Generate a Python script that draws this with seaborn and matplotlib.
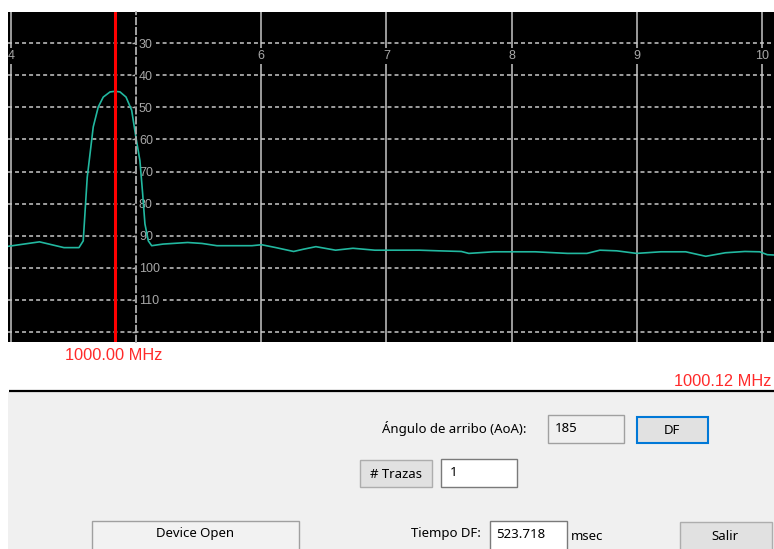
import numpy as np
import pandas as pd
import matplotlib
matplotlib.use("Agg")
import matplotlib.pyplot as plt
import seaborn as sns
from matplotlib.patches import Rectangle

# trace (x in grid units, level in -dBm, axis inverted)
pos = [3.976, 4.228, 4.423, 4.543, 4.577, 4.609, 4.625, 4.657, 4.697, 4.737,
       4.791, 4.831, 4.871, 4.919, 4.964, 4.998, 5.030, 5.052, 5.070, 5.097,
       5.124, 5.214, 5.411, 5.526, 5.645, 5.925, 6.002, 6.117, 6.258, 6.336,
       6.436, 6.593, 6.732, 6.907, 7.263, 7.419, 7.598, 7.658, 7.855, 8.189,
       8.446, 8.601, 8.705, 8.840, 8.998, 9.192, 9.391, 9.551, 9.708, 9.863,
       9.982, 10.042, 10.096]
level = [93.3, 91.9, 93.7, 93.7, 91.6, 71.8, 66.6, 56.1, 49.9, 46.8,
         45.2, 45.0, 45.2, 46.8, 50.9, 59.3, 66.6, 77.0, 86.3, 91.6,
         93.1, 92.6, 92.1, 92.4, 93.1, 93.1, 92.8, 93.7, 94.9, 94.2,
         93.4, 94.5, 93.9, 94.5, 94.5, 94.7, 94.9, 95.5, 95.0, 95.0,
         95.5, 95.5, 94.5, 94.7, 95.5, 95.0, 95.0, 96.4, 95.3, 94.9,
         95.0, 95.9, 96.0]
marker_pos = 4.83

x_ticks = [4, 6, 7, 8, 9, 10]
y_ticks = [30, 40, 50, 60, 70, 80, 90, 100, 110, 120]
y_labels = ["30", "40", "50", "60", "70", "80", "90", "100", "110", ""]

freq_left = "1000.00 MHz"
freq_right = "1000.12 MHz"
aoa_value = "185"
n_traces = "1"
df_time = "523.718"

sns.set_style("dark")
plt.rcParams["font.family"] = ["Liberation Sans", "DejaVu Sans"]

W, H = 774, 549
fig = plt.figure(figsize=(W / 100, H / 100), dpi=100)
fig.patch.set_facecolor("white")

# --- lower control panel (pixel coords) ---
ui = fig.add_axes([0, 0, 1, 1], zorder=0)
ui.set_xlim(0, W)
ui.set_ylim(H, 0)
ui.axis("off")
ui.add_patch(Rectangle((8, 392), W - 8, H - 392, facecolor="#f0f0f0", edgecolor="none"))
ui.plot([9, W], [391, 391], color="black", lw=1.6, solid_capstyle="butt")

ui.text(65, 355, freq_left, color="#ff2a2a", fontsize=11.8, ha="left", va="center")
ui.text(772, 381, freq_right, color="#ff2a2a", fontsize=11.8, ha="right", va="center")


def box(x0, y0, x1, y1, fc, ec, lw=1.0):
    ui.add_patch(Rectangle((x0, y0), x1 - x0, y1 - y0, facecolor=fc, edgecolor=ec, lw=lw))


uifont = dict(fontsize=9.5, color="black", va="center", family=["Noto Sans", "DejaVu Sans"])
box(548, 415, 624, 443, "#f0f0f0", "#a0a0a0")
box(637, 417, 708, 443, "#e1e1e1", "#0078d7", lw=1.5)
box(360, 460, 432, 487, "#e1e1e1", "#adadad")
box(441, 459, 517, 487, "white", "#7a7a7a")
box(92, 521, 299, 555, "#f2f2f2", "#a0a0a0")
box(490, 521, 567, 555, "white", "#7a7a7a")
box(680, 522, 772, 555, "#e1e1e1", "#adadad")

ui.text(526, 429, "Ángulo de arribo (AoA):", ha="right", **uifont)
ui.text(555, 429, aoa_value, ha="left", **uifont)
ui.text(672, 431, "DF", ha="center", **uifont)
ui.text(396, 474, "# Trazas", ha="center", **uifont)
ui.text(450, 472, n_traces, ha="left", **uifont)
ui.text(195, 534, "Device Open", ha="center", **uifont)
ui.text(481, 534, "Tiempo DF:", ha="right", **uifont)
ui.text(496, 534, df_time, ha="left", **uifont)
ui.text(571, 536, "msec", ha="left", **uifont)
ui.text(725, 536, "Salir", ha="center", **uifont)

# --- spectrum display ---
ax = fig.add_axes([8 / W, (H - 342) / H, (W - 8) / W, 330 / H], zorder=2)
ax.set_facecolor("black")

spec = pd.DataFrame({"pos": pos, "level": level})
sns.lineplot(data=spec, x="pos", y="level", color="#22b8a0", lw=1.2, ax=ax)
ax.axvline(marker_pos, color="#ff0000", lw=2.2, zorder=4)

ax.set_xlim(3.976, 10.096)
ax.set_ylim(123.1, 20.3)
ax.set_xlabel("")
ax.set_ylabel("")

ax.set_xticks(x_ticks)
ax.set_yticks(y_ticks)
ax.set_yticklabels(y_labels)

ax.grid(False)
ax.xaxis.grid(True, color="#a8a8a8", lw=1.3, ls="-")
ax.yaxis.grid(True, color="#c8c8c8", lw=1.1, ls=(0, (2.6, 2.0)))

for s in ["top", "left"]:
    ax.spines[s].set_visible(False)
ax.spines["bottom"].set_position(("data", 30))
ax.spines["bottom"].set_visible(False)
ax.spines["right"].set_position(("data", 5))
ax.spines["right"].set_color("#b0b0b0")
ax.spines["right"].set_linewidth(1.3)
ax.spines["right"].set_linestyle((0, (3.5, 2.0)))

ax.yaxis.tick_right()
ax.tick_params(axis="y", direction="in", length=3, width=1, color="#b0b0b0",
               labelsize=9, labelcolor="#a8a8a8", pad=2)
ax.tick_params(axis="x", length=0, labelsize=9, labelcolor="#a8a8a8", pad=5)
for lbl in ax.get_yticklabels():
    lbl.set_horizontalalignment("left")
    lbl.set_bbox(dict(facecolor="black", edgecolor="none", pad=2.5))
for lbl in ax.get_xticklabels():
    lbl.set_bbox(dict(facecolor="black", edgecolor="none", pad=1.5))
    lbl.set_clip_on(True)
    lbl.set_clip_box(ax.bbox)

fig.savefig("out.png", dpi=100, facecolor="white")
